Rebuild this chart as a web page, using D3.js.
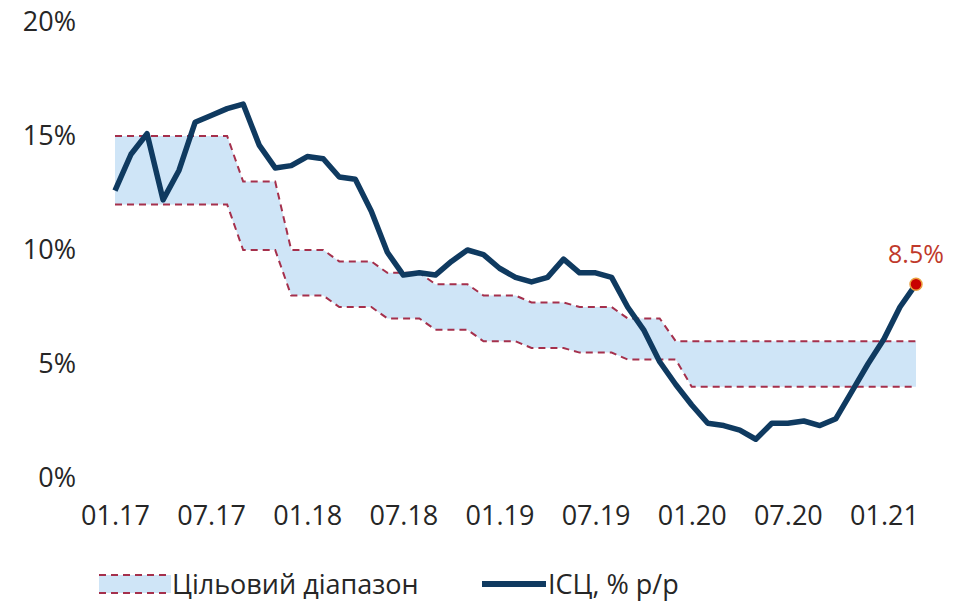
<!DOCTYPE html>
<html>
<head>
<meta charset="utf-8">
<script src="https://cdn.jsdelivr.net/npm/d3@7"></script>
<style>
  body { margin: 0; background: #fff; }
  text { font-family: "Open Sans", "Noto Sans", sans-serif; fill: #262626; }
</style>
</head>
<body>
<div id="chart"></div>
<script>
// months from 01.17 to 03.21 (index 0..50)
var tickLabels = ["01.17", "07.17", "01.18", "07.18", "01.19", "07.19", "01.20", "07.20", "01.21"];
var yTicks = [0, 5, 10, 15, 20];

// CPI, % y/y
var cpi = [12.6, 14.2, 15.1, 12.2, 13.5, 15.6, 15.9, 16.2, 16.4, 14.6, 13.6, 13.7,
           14.1, 14.0, 13.2, 13.1, 11.7, 9.9, 8.9, 9.0, 8.9, 9.5, 10.0, 9.8,
           9.2, 8.8, 8.6, 8.8, 9.6, 9.0, 9.0, 8.8, 7.5, 6.5, 5.1, 4.1,
           3.2, 2.4, 2.3, 2.1, 1.7, 2.4, 2.4, 2.5, 2.3, 2.6, 3.8, 5.0,
           6.1, 7.5, 8.5];

// target range bounds
var upper = [15, 15, 15, 15, 15, 15, 15, 15, 13, 13, 13, 10,
             10, 10, 9.5, 9.5, 9.5, 9, 9, 9, 8.5, 8.5, 8.5, 8,
             8, 8, 7.7, 7.7, 7.7, 7.5, 7.5, 7.5, 7, 7, 7, 6,
             6, 6, 6, 6, 6, 6, 6, 6, 6, 6, 6, 6,
             6, 6, 6];
var lower = [12, 12, 12, 12, 12, 12, 12, 12, 10, 10, 10, 8,
             8, 8, 7.5, 7.5, 7.5, 7, 7, 7, 6.5, 6.5, 6.5, 6,
             6, 6, 5.7, 5.7, 5.7, 5.5, 5.5, 5.5, 5.2, 5.2, 5.2, 5.2,
             4, 4, 4, 4, 4, 4, 4, 4, 4, 4, 4, 4,
             4, 4, 4];

var svgWidth = 971;
var svgHeight = 601;

var svg = d3.select("#chart")
  .append("svg")
  .attr("width", svgWidth)
  .attr("height", svgHeight);

var x = d3.scaleLinear()
  .domain([0, cpi.length - 1])
  .range([115, 916]);

var y = d3.scaleLinear()
  .domain([0, 20])
  .range([478, 22]);

var idx = d3.range(cpi.length);

// band fill
var band = d3.area()
  .x(d => x(d))
  .y0(d => y(lower[d]))
  .y1(d => y(upper[d]));

svg.append("path")
  .datum(idx)
  .attr("d", band)
  .attr("fill", "#cfe5f7");

// dashed bounds
[upper, lower].forEach(function(arr) {
  svg.append("path")
    .datum(idx)
    .attr("d", d3.line().x(d => x(d)).y(d => y(arr[d])))
    .attr("fill", "none")
    .attr("stroke", "#a5304c")
    .attr("stroke-width", 2)
    .attr("stroke-dasharray", "7,5");
});

// CPI line
svg.append("path")
  .datum(idx)
  .attr("d", d3.line().x(d => x(d)).y(d => y(cpi[d])))
  .attr("fill", "none")
  .attr("stroke", "#0f3a60")
  .attr("stroke-width", 5.5)
  .attr("stroke-linejoin", "round");

// last point
var last = cpi.length - 1;
svg.append("circle")
  .attr("cx", x(last))
  .attr("cy", y(cpi[last]))
  .attr("r", 6)
  .attr("fill", "#c80000")
  .attr("stroke", "#eaa040")
  .attr("stroke-width", 1.5);

svg.append("text")
  .attr("x", x(last))
  .attr("y", y(cpi[last]) - 21)
  .attr("text-anchor", "middle")
  .attr("font-size", "25px")
  .style("fill", "#c0392b")
  .text(cpi[last].toFixed(1) + "%");

// y axis
var leftAxis = d3.axisLeft(y)
  .tickValues(yTicks)
  .tickFormat(d => d + "%")
  .tickSize(0)
  .tickPadding(0);

var yAxis = svg.append("g")
  .attr("transform", "translate(76,0)")
  .call(leftAxis);
yAxis.select(".domain").remove();
yAxis.selectAll("text")
  .attr("font-size", "27px")
  .attr("font-family", null)
  .style("fill", "#262626");

// x axis
var bottomAxis = d3.axisBottom(x)
  .tickValues(tickLabels.map((d, i) => i * 6))
  .tickFormat((d, i) => tickLabels[i])
  .tickSize(0)
  .tickPadding(0);

var xAxis = svg.append("g")
  .attr("transform", "translate(0,506)")
  .call(bottomAxis);
xAxis.select(".domain").remove();
xAxis.selectAll("text")
  .attr("font-size", "27px")
  .attr("font-family", null)
  .style("fill", "#262626");

// legend
var legend = svg.append("g").attr("transform", "translate(0,584)");

legend.append("rect")
  .attr("x", 99).attr("y", -9)
  .attr("width", 72).attr("height", 18)
  .attr("fill", "#cfe5f7");
[-9, 9].forEach(function(dy) {
  legend.append("line")
    .attr("x1", 99).attr("x2", 171)
    .attr("y1", dy).attr("y2", dy)
    .attr("stroke", "#a5304c")
    .attr("stroke-width", 2)
    .attr("stroke-dasharray", "7,5");
});
legend.append("text")
  .attr("x", 172).attr("y", 10)
  .attr("font-size", "27px")
  .text("Цільовий діапазон");

legend.append("line")
  .attr("x1", 482).attr("x2", 546)
  .attr("y1", 0).attr("y2", 0)
  .attr("stroke", "#0f3a60")
  .attr("stroke-width", 6);
legend.append("text")
  .attr("x", 548).attr("y", 10)
  .attr("font-size", "27px")
  .text("ІСЦ, % р/р");
</script>
</body>
</html>
